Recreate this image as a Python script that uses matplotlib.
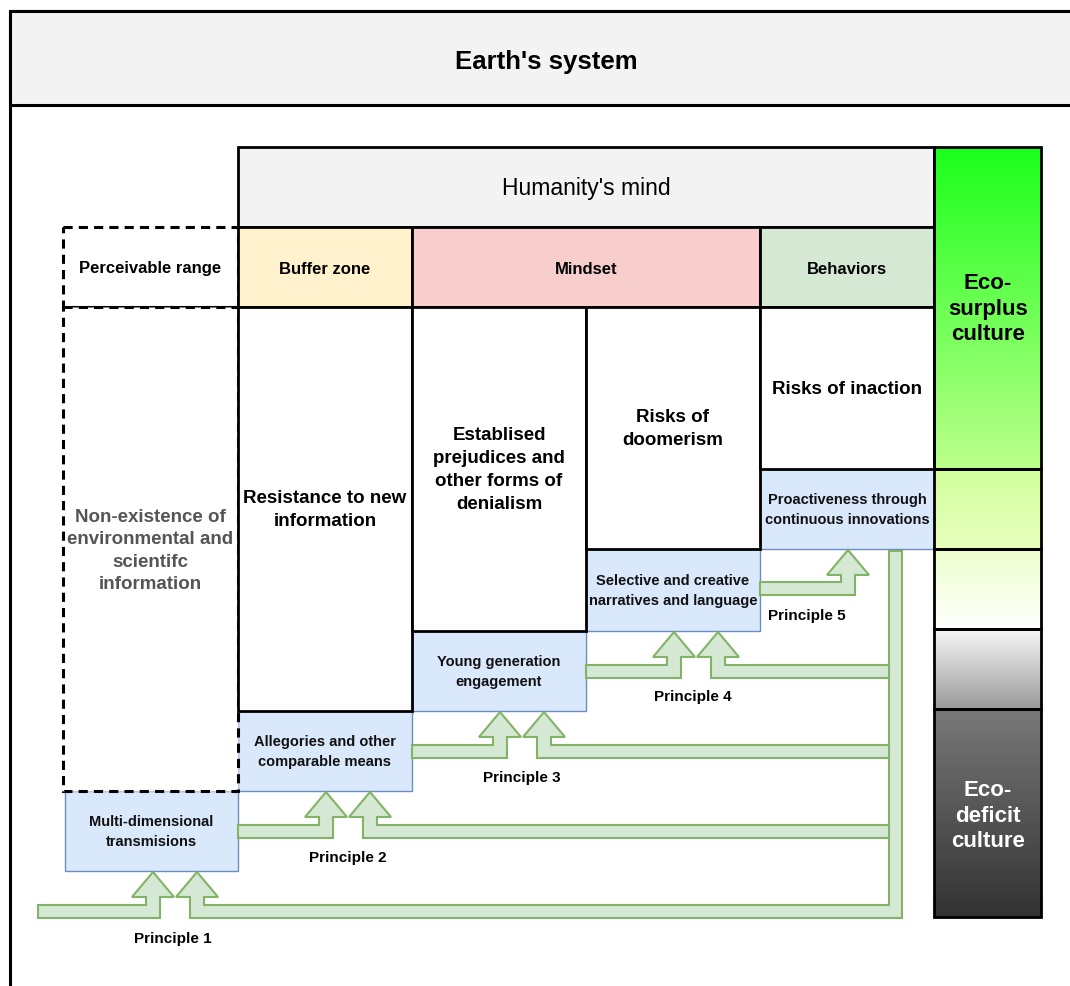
import numpy as np
import matplotlib.pyplot as plt
from matplotlib.patches import Rectangle, Polygon
from matplotlib.colors import to_rgb

plt.rcParams['font.family'] = ['Liberation Sans', 'DejaVu Sans']

# ---- texts ----
title_text = "Earth's system"
mind_text = "Humanity's mind"
header_labels = ['Perceivable range', 'Buffer zone', 'Mindset', 'Behaviors']
barrier_labels = ['Non-existence of\nenvironmental and\nscientifc\ninformation',
                  'Resistance to new\ninformation',
                  'Establised\nprejudices and\nother forms of\ndenialism',
                  'Risks of\ndoomerism',
                  'Risks of inaction']
strategy_labels = ['Multi-dimensional\ntransmisions',
                   'Allegories and other\ncomparable means',
                   'Young generation\nengagement',
                   'Selective and creative\nnarratives and language',
                   'Proactiveness through\ncontinuous innovations']
principle_labels = ['Principle 1', 'Principle 2', 'Principle 3', 'Principle 4', 'Principle 5']
culture_labels = ['Eco-\nsurplus\nculture', 'Eco-\ndeficit\nculture']

# ---- layout (pixel coords) ----
col_x = [63, 238, 412, 586, 760, 934]
step_y = [872, 792, 712, 632, 550, 470]
barrier_top = 308
bar_x = (934, 1041)
bar_y = [148, 470, 550, 630, 710, 918]
bar_cols = [('#1cff1c', '#bcff8c'), ('#d2ff9c', '#e8ffbe'), ('#eeffcc', '#ffffff'),
            ('#f6f6f6', '#9a9a9a'), ('#787878', '#333333')]

fill_green, edge_green = '#d5e8d4', '#82b366'
fill_blue, edge_blue = '#dae8fc', '#6c8ebf'
trunk_x = (889, 902)

fig = plt.figure(figsize=(10.70, 9.87), dpi=100)
ax = fig.add_axes([0, 0, 1, 1])
ax.set_xlim(0, 1070)
ax.set_ylim(987, 0)
ax.axis('off')

def box(x0, y0, x1, y1, fc='white', ec='black', lw=2.0, ls='-', z=3):
    ax.add_patch(Rectangle((x0, y0), x1 - x0, y1 - y0, facecolor=fc, edgecolor=ec,
                           lw=lw, ls=ls, zorder=z))

# outer frame and Earth's system header
box(10, 12, 1085, 1000, fc='white', lw=2.2, z=0)
box(10, 12, 1085, 106, fc='#f3f3f3', lw=2.2, z=1)
ax.text(546, 62, title_text, ha='center', va='center', fontsize=18.5, fontweight='bold', zorder=10)

# Humanity's mind
box(238, 148, 934, 228, fc='#f3f3f3')
ax.text(586, 189, mind_text, ha='center', va='center', fontsize=16.5, zorder=10)

# header row
header_fc = ['white', '#fff2cc', '#f8cecc', '#d5e8d4']
hx = [(col_x[0], col_x[1]), (col_x[1], col_x[2]), (col_x[2], col_x[4]), (col_x[4], col_x[5])]
for i, (lab, (x0, x1)) in enumerate(zip(header_labels, hx)):
    if i == 0:
        box(x0, 228, x1, barrier_top, fc='white', ls=(0, (3, 2)), lw=2.2, z=2)
    else:
        box(x0, 228, x1, barrier_top, fc=header_fc[i])
    ax.text((x0 + x1) / 2, 269, lab, ha='center', va='center', fontsize=12,
            fontweight='bold', zorder=10)

# blue strategy boxes
for i, lab in enumerate(strategy_labels):
    x0, x1 = col_x[i], col_x[i + 1]
    if i == 0:
        x0 = 65
    y0, y1 = step_y[i + 1], step_y[i]
    box(x0, y0, x1, y1, fc=fill_blue, ec=edge_blue, lw=1.0, z=2)
    ax.text((x0 + x1) / 2, (y0 + y1) / 2, lab, ha='center', va='center', fontsize=10.5,
            fontweight='bold', color='#111111', linespacing=1.5, zorder=10)

# barrier boxes
for i, lab in enumerate(barrier_labels):
    x0, x1 = col_x[i], col_x[i + 1]
    y1 = step_y[i + 1]
    if i == 0:
        box(x0, barrier_top, x1, y1, fc='white', ls=(0, (3, 2)), lw=2.2, z=2.5)
        ax.text((x0 + x1) / 2, 551, lab, ha='center', va='center', fontsize=13.5,
                fontweight='bold', color='#555555', linespacing=1.4, zorder=10)
    else:
        box(x0, barrier_top, x1, y1)
        ax.text((x0 + x1) / 2, (barrier_top + y1) / 2, lab, ha='center', va='center',
                fontsize=13.5, fontweight='bold', linespacing=1.45, zorder=10)

# gradient culture bar
for (c0, c1), y0, y1 in zip(bar_cols, bar_y[:-1], bar_y[1:]):
    t = np.linspace(0, 1, 64)[:, None]
    img = (1 - t) * np.array(to_rgb(c0)) + t * np.array(to_rgb(c1))
    ax.imshow(img[:, None, :].repeat(2, axis=1), extent=(bar_x[0], bar_x[1], y1, y0),
              origin='upper', aspect='auto', zorder=2, interpolation='bilinear')
    box(bar_x[0], y0, bar_x[1], y1, fc='none', z=3)
ax.set_xlim(0, 1070)
ax.set_ylim(987, 0)
ax.text(988, 309, culture_labels[0], ha='center', va='center', fontsize=16,
        fontweight='bold', linespacing=1.3, zorder=10)
ax.text(988, 816, culture_labels[1], ha='center', va='center', fontsize=16,
        fontweight='bold', color='white', linespacing=1.3, zorder=10)

# arrows
hw, sw = 21, 7
def arrow_pts(tip_x, tip_y, band_end, from_left):
    hb, bt, bb = tip_y + 25, tip_y + 33, tip_y + 46
    s = 1 if from_left else -1
    return [(band_end, bt), (tip_x - s * sw, bt), (tip_x - s * sw, hb), (tip_x - s * hw, hb),
            (tip_x, tip_y), (tip_x + s * hw, hb), (tip_x + s * sw, hb), (tip_x + s * sw, bb),
            (band_end, bb)]

def draw_poly(pts):
    ax.add_patch(Polygon(pts, closed=True, facecolor=fill_green, edgecolor=edge_green,
                         lw=1.5, zorder=5, joinstyle='miter'))

label_pos = [(173, 939), (348, 858), (522, 778), (693, 697), (807, 616)]
for i in range(5):
    left = 65 if i == 0 else col_x[i]
    tip_y = step_y[i] + 1
    if i < 4:
        t1, t2 = left + 88, left + 132
        draw_poly(arrow_pts(t1, tip_y, 38 if i == 0 else col_x[i], True))
        if i == 0:
            hb, bt, bb = tip_y + 25, tip_y + 33, tip_y + 46
            draw_poly([(t2, tip_y), (t2 + hw, hb), (t2 + sw, hb), (t2 + sw, bt),
                       (trunk_x[0], bt), (trunk_x[0], 552), (trunk_x[1], 552),
                       (trunk_x[1], bb), (t2 - sw, bb), (t2 - sw, hb), (t2 - hw, hb)])
        else:
            draw_poly(arrow_pts(t2, tip_y, trunk_x[0], False))
    else:
        tip = 848
        hb, bt, bb = tip_y + 25, tip_y + 32, tip_y + 45
        draw_poly([(col_x[4], bt), (tip - sw, bt), (tip - sw, hb), (tip - hw, hb), (tip, tip_y),
                   (tip + hw, hb), (tip + sw, hb), (tip + sw, bb), (col_x[4], bb)])
    ax.text(label_pos[i][0], label_pos[i][1], principle_labels[i], ha='center', va='center',
            fontsize=11, fontweight='bold', zorder=10)

fig.savefig('out.png', dpi=100)
